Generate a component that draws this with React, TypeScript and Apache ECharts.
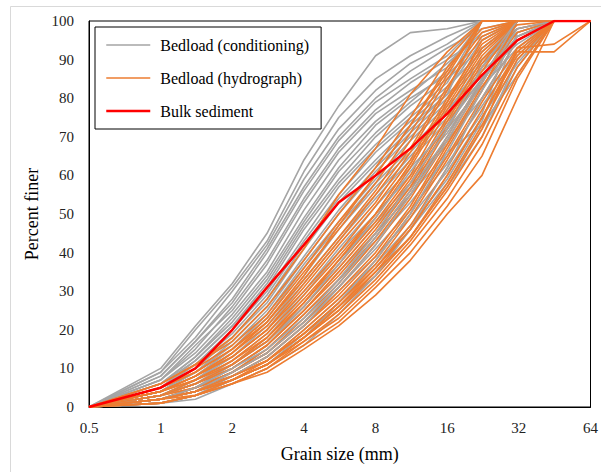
import React, { useEffect, useRef } from "react";
import * as echarts from "echarts";

const grainSizes = [0.5, 1, 1.4, 2, 2.8, 4, 5.6, 8, 11.2, 16, 22.4, 31.5, 45, 64];
const xTicks = [0.5, 1, 2, 4, 8, 16, 32, 64];

// Bedload (conditioning) samples, finer fractions
const conditioningCurves: number[][] = [
  [0, 10, 21, 32, 45, 64, 78, 91, 97, 98, 100, 100, 100, 100],
  [0, 9, 20, 31, 43, 61, 75, 85, 91, 96, 100, 100, 100, 100],
  [0, 9, 18, 30, 42, 59, 72, 82, 89, 94, 100, 100, 100, 100],
  [0, 8, 17, 28, 41, 57, 70, 80, 87, 93, 98, 100, 100, 100],
  [0, 8, 17, 27, 40, 56, 69, 79, 85, 91, 100, 100, 100, 100],
  [0, 7, 15, 26, 38, 54, 67, 77, 84, 90, 96, 100, 100, 100],
  [0, 7, 16, 25, 37, 53, 66, 76, 82, 88, 100, 100, 100, 100],
  [0, 7, 14, 24, 35, 51, 64, 74, 81, 89, 97, 100, 100, 100],
  [0, 6, 13, 23, 34, 49, 62, 73, 80, 86, 95, 100, 100, 100],
  [0, 6, 13, 22, 33, 48, 61, 71, 79, 87, 100, 100, 100, 100],
  [0, 6, 12, 21, 32, 47, 59, 70, 78, 85, 93, 100, 100, 100],
  [0, 5, 12, 21, 31, 46, 58, 68, 76, 84, 100, 100, 100, 100],
  [0, 5, 11, 20, 30, 44, 57, 67, 75, 83, 92, 100, 100, 100],
  [0, 5, 11, 19, 29, 43, 55, 66, 74, 82, 95, 100, 100, 100],
  [0, 5, 10, 18, 28, 42, 54, 64, 73, 81, 90, 98, 100, 100],
  [0, 4, 10, 18, 27, 41, 53, 63, 72, 81, 100, 100, 100, 100],
  [0, 4, 9, 17, 26, 39, 51, 62, 71, 80, 89, 97, 100, 100],
  [0, 4, 9, 16, 25, 38, 50, 61, 70, 79, 93, 100, 100, 100],
  [0, 4, 8, 15, 24, 37, 48, 59, 69, 78, 88, 100, 100, 100],
  [0, 4, 8, 15, 23, 36, 47, 58, 67, 77, 87, 95, 100, 100],
  [0, 3, 7, 14, 22, 34, 46, 57, 66, 76, 90, 100, 100, 100],
  [0, 3, 7, 13, 21, 33, 44, 55, 65, 75, 86, 94, 100, 100],
  [0, 3, 7, 13, 20, 32, 43, 54, 64, 74, 85, 100, 100, 100],
  [0, 3, 6, 12, 19, 30, 41, 52, 62, 72, 83, 93, 100, 100],
  [0, 3, 6, 11, 18, 29, 40, 50, 60, 71, 84, 100, 100, 100],
  [0, 2, 5, 11, 17, 27, 38, 48, 58, 69, 80, 92, 100, 100],
];

// Bedload (conditioning) samples, coarser fractions (overlapping the hydrograph band)
const conditioningCoarseCurves: number[][] = [
  [0, 2, 5, 10, 16, 26, 36, 47, 57, 68, 82, 100, 100, 100],
  [0, 2, 5, 10, 16, 25, 35, 45, 55, 66, 73, 86, 100, 100],
  [0, 2, 4, 9, 15, 24, 33, 43, 53, 65, 78, 91, 100, 100],
  [0, 2, 4, 9, 14, 22, 31, 41, 51, 63, 76, 100, 100, 100],
  [0, 2, 4, 8, 13, 21, 30, 39, 49, 61, 75, 89, 100, 100],
  [0, 1, 3, 8, 12, 20, 28, 37, 47, 59, 74, 97, 100, 100],
  [0, 1, 3, 7, 11, 19, 27, 36, 46, 58, 72, 88, 100, 100],
  [0, 1, 3, 7, 11, 18, 26, 34, 44, 57, 70, 90, 100, 100],
  [0, 2, 4, 9, 14, 22, 32, 44, 56, 70, 85, 100, 100, 100],
  [0, 2, 5, 10, 15, 23, 33, 45, 58, 72, 88, 100, 100, 100],
  [0, 1, 3, 7, 11, 18, 27, 38, 50, 66, 82, 96, 100, 100],
  [0, 1, 2, 6, 10, 16, 24, 34, 46, 62, 80, 95, 100, 100],
  [0, 2, 4, 8, 13, 21, 31, 42, 55, 69, 84, 98, 100, 100],
  [0, 3, 6, 11, 17, 26, 37, 49, 61, 73, 85, 96, 100, 100],
];

const hydrographCurves: number[][] = [
  [0, 6, 11, 18, 28, 41, 55, 67, 81, 92, 100, 100, 100, 100],
  [0, 6, 11, 17, 26, 38, 50, 62, 75, 90, 100, 100, 100, 100],
  [0, 5, 10, 16, 24, 36, 48, 60, 73, 88, 98, 100, 100, 100],
  [0, 5, 9, 15, 23, 35, 46, 58, 71, 86, 100, 100, 100, 100],
  [0, 5, 9, 15, 22, 33, 44, 56, 69, 85, 97, 100, 100, 100],
  [0, 4, 8, 14, 21, 32, 43, 55, 67, 83, 96, 100, 100, 100],
  [0, 4, 8, 13, 20, 31, 42, 53, 66, 82, 100, 100, 100, 100],
  [0, 4, 8, 13, 20, 30, 40, 52, 64, 80, 94, 100, 100, 100],
  [0, 4, 7, 12, 19, 29, 39, 50, 63, 79, 93, 100, 100, 100],
  [0, 4, 7, 12, 18, 28, 38, 49, 62, 78, 92, 100, 100, 100],
  [0, 3, 7, 11, 18, 27, 37, 48, 60, 77, 91, 100, 100, 100],
  [0, 3, 6, 11, 17, 26, 36, 47, 59, 75, 90, 99, 100, 100],
  [0, 3, 6, 10, 16, 25, 35, 46, 58, 74, 89, 100, 100, 100],
  [0, 3, 6, 10, 16, 25, 34, 45, 57, 73, 88, 98, 100, 100],
  [0, 3, 5, 9, 15, 24, 33, 44, 56, 72, 87, 100, 100, 100],
  [0, 3, 5, 9, 14, 23, 32, 43, 55, 70, 85, 97, 100, 100],
  [0, 2, 5, 9, 14, 22, 31, 42, 54, 69, 84, 100, 100, 100],
  [0, 2, 5, 8, 13, 21, 30, 40, 52, 68, 83, 96, 100, 100],
  [0, 2, 4, 8, 13, 21, 29, 39, 51, 67, 82, 100, 100, 100],
  [0, 2, 4, 8, 12, 20, 28, 38, 50, 65, 80, 95, 100, 100],
  [0, 2, 4, 8, 12, 19, 27, 37, 49, 64, 79, 93, 100, 100],
  [0, 2, 4, 7, 12, 19, 26, 36, 47, 62, 77, 92, 100, 100],
  [0, 2, 4, 7, 11, 18, 25, 35, 46, 60, 75, 91, 100, 100],
  [0, 2, 4, 7, 11, 18, 25, 34, 44, 58, 73, 90, 100, 100],
  [0, 2, 3, 7, 11, 17, 24, 33, 43, 56, 70, 88, 100, 100],
  [0, 1, 3, 6, 10, 17, 23, 32, 42, 54, 68, 86, 100, 100],
  [0, 1, 3, 6, 10, 16, 22, 31, 40, 52, 65, 85, 100, 100],
  [0, 1, 3, 6, 9, 15, 21, 29, 38, 50, 60, 80, 100, 100],
  [0, 2, 4, 8, 12, 19, 27, 36, 46, 60, 75, 92, 92, 100],
  [0, 2, 4, 7, 11, 18, 26, 35, 44, 57, 72, 93, 94, 100],
  [0, 4, 8, 14, 22, 34, 47, 60, 73, 87, 100, 100, 100, 100],
  [0, 3, 6, 11, 17, 27, 38, 50, 63, 79, 95, 100, 100, 100],
];

const bulkCurve = [0, 5, 10, 20, 31, 42, 53, 60, 67, 76, 86, 95, 100, 100];

const NAME_COND = "Bedload (conditioning)";
const NAME_HYD = "Bedload (hydrograph)";
const NAME_BULK = "Bulk sediment";
const X_TITLE = "Grain size (mm)";
const Y_TITLE = "Percent finer";

const GREY = "#A5A5A5";
const ORANGE = "#ED7D31";
const RED = "#FF0000";
const FONT = "Liberation Serif";

const labelRich = { s: { fontFamily: FONT, fontSize: 15, color: "#222" } };
const nameRich = { s: { fontFamily: FONT, fontSize: 18, color: "#000" } };

function toPairs(values: number[]) {
  return grainSizes.map((s, i) => [s, values[i]]);
}

function lineSeries(name: string, values: number[], color: string, width: number) {
  return {
    type: "line",
    name,
    data: toPairs(values),
    symbol: "none",
    showSymbol: false,
    lineStyle: { color, width },
    itemStyle: { color },
  };
}

export default function App() {
  const ref = useRef<HTMLDivElement>(null);
  useEffect(() => {
    if (!ref.current) return;
    const chart = echarts.init(ref.current, undefined, { renderer: "svg" });
    const series: any[] = [];
    conditioningCurves.forEach((c) => series.push(lineSeries(NAME_COND, c, GREY, 1.6)));
    let k = 0;
    hydrographCurves.forEach((c, i) => {
      series.push(lineSeries(NAME_HYD, c, ORANGE, 1.6));
      if (i % 2 === 1 && k < conditioningCoarseCurves.length) {
        series.push(lineSeries(NAME_COND, conditioningCoarseCurves[k], GREY, 1.6));
        k++;
      }
    });
    while (k < conditioningCoarseCurves.length) {
      series.push(lineSeries(NAME_COND, conditioningCoarseCurves[k], GREY, 1.6));
      k++;
    }
    series.push(lineSeries(NAME_BULK, bulkCurve, RED, 2.5));

    chart.setOption({
      animation: false,
      backgroundColor: "#fff",
      textStyle: { fontFamily: FONT },
      graphic: [
        {
          type: "rect",
          shape: { x: 10.5, y: 6.5, width: 620, height: 500 },
          style: { fill: "none", stroke: "#D9D9D9", lineWidth: 1 },
          z: -1,
        },
      ],
      grid: {
        left: 89,
        right: 8,
        top: 21,
        bottom: 65,
        show: true,
        borderColor: "#000",
        borderWidth: 1,
        backgroundColor: "transparent",
      },
      legend: {
        data: [NAME_COND, NAME_HYD, NAME_BULK],
        orient: "vertical",
        left: 95,
        top: 27,
        padding: [10, 12, 10, 10],
        itemGap: 17,
        itemWidth: 44,
        itemHeight: 14,
        backgroundColor: "#fff",
        borderColor: "#000",
        borderWidth: 1,
        itemStyle: { opacity: 0 },
        lineStyle: { width: "inherit" },
        textStyle: { fontFamily: FONT, fontSize: 16, color: "#000", padding: [0, 0, 0, 5] },
      },
      xAxis: {
        type: "log",
        logBase: 2,
        min: 0.5,
        max: 64,
        interval: 1,
        name: "{s|" + X_TITLE + "}",
        nameLocation: "middle",
        nameGap: 38,
        nameTextStyle: { fontFamily: FONT, fontSize: 18, color: "#000", rich: nameRich },
        axisLine: { show: true, lineStyle: { color: "#000", width: 1 } },
        axisTick: { show: false },
        splitLine: { show: false },
        minorTick: { show: false },
        axisLabel: {
          fontFamily: FONT,
          fontSize: 15,
          color: "#222",
          margin: 13,
          rich: labelRich,
          formatter: (v: number) => {
            const t = xTicks.find((x) => Math.abs(x - v) < 1e-6);
            return t !== undefined ? "{s|" + t + "}" : "";
          },
        },
      },
      yAxis: {
        type: "value",
        min: 0,
        max: 100,
        interval: 10,
        name: "{s|" + Y_TITLE + "}",
        nameLocation: "middle",
        nameGap: 45,
        nameTextStyle: { fontFamily: FONT, fontSize: 18, color: "#000", rich: nameRich },
        axisLine: { show: true, lineStyle: { color: "#000", width: 1 } },
        axisTick: { show: false },
        splitLine: { show: false },
        axisLabel: {
          fontFamily: FONT,
          fontSize: 15,
          color: "#222",
          margin: 15,
          rich: labelRich,
          formatter: "{s|{value}}",
        },
      },
      series,
    });
    return () => chart.dispose();
  }, []);
  return (
    <div
      ref={ref}
      style={{ position: "fixed", left: 0, top: 0, width: 601, height: 472 }}
    />
  );
}
